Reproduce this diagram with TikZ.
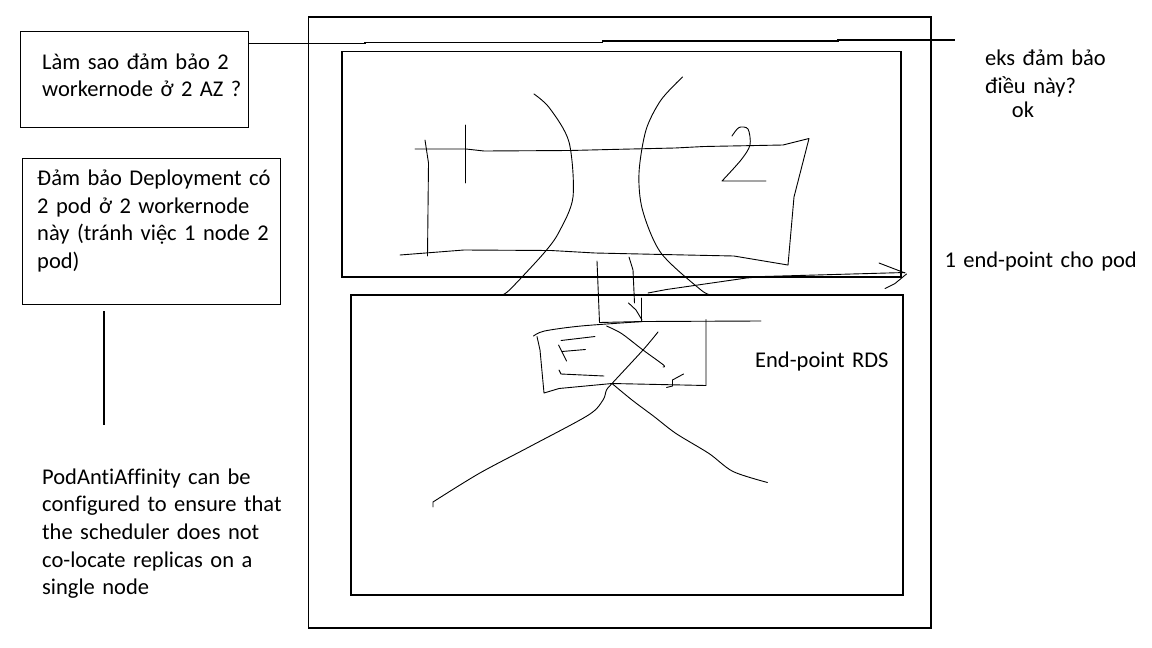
\documentclass[tikz,border=0pt]{standalone}
\usepackage{fontspec}
\setmainfont{Carlito}[Ligatures=NoCommon]
\usetikzlibrary{positioning,calc}
\tikzset{
  frame/.style={draw, line width=1.1pt},
  pen/.style={line width=0.9pt, line join=round, line cap=round},
  notebox/.style={draw, line width=1.1pt, inner sep=0pt, anchor=north west},
  note/.style={inner sep=0pt, align=left, anchor=base west, text width=260pt,
               font=\fontsize{22.5}{27.6}\selectfont},
}

\begin{document}
\begin{tikzpicture}[x=1pt,y=-1pt]
  \useasboundingbox (0,0) rectangle (1152,648);

  % notes on the left
  \node[notebox, minimum width=228pt, minimum height=96pt] (q1) at (20,31) {};
  \node[note] (q1txt) at (42,69.3) {Làm sao đảm bảo 2\\workernode ở 2 AZ ?};
  \node[notebox, minimum width=258pt, minimum height=146pt] (q2) at (22,158) {};
  \node[note] (q2txt) at (37,185.7) {Đảm bảo Deployment có\\2 pod ở 2 workernode\\này (tránh việc 1 node 2\\pod)};
  \node[note] (anti) at (42,484.3) {PodAntiAffinity can be\\configured to ensure that\\the scheduler does not\\co-locate replicas on a\\single node};
  \draw[frame] (q2.south west) ++(82,6) -- ++(0,114);

  % notes on the right
  \node[note] (eks) at (985,65.7) {eks đảm bảo\\điều này?};
  \node[note] (ok) at (1011.7,117.3) {ok};
  \node[note] (ep) at (944.3,267.3) {1 end-point cho pod};
  \node[note] (rds) at (755,367.3) {End-point RDS};

  % frames
  \draw[frame] (308.5,17) rectangle (931,628);
  \draw[frame] (342,51.5) rectangle (901,277);
  \draw[frame] (351,295) rectangle (903,595);
  \draw[frame] (q1.north east) ++(0,12.3) -- (365,43.3) -- (365,42.3) -- (602.5,42.3)
    -- (602.5,41) -- (838,41) -- (838,40) -- (955,40);

  % sketch: two worker nodes
  \draw[pen] (415,149) -- (466,149) -- (484,151) -- (570,150.5) -- (610,149.5)
    -- (675,148) -- (704,146.5) -- (783,145) -- (809,138.5) -- (794,197) -- (788,265);
  \draw[pen] (400,255) -- (464,250) -- (551,250.5) -- (595,253) -- (686,255)
    -- (734,256) -- (788,265);
  \draw[pen] (425,140) -- (428.5,163) -- (427.5,256);
  \draw[pen] (465,125) -- (465,183);
  \draw[pen] plot[smooth] coordinates {(732,136) (739,127.5) (748,129) (750,145) (741,160) (722,181)}
    -- (766,181);
  \draw[pen] plot[smooth] coordinates {(534,94) (549.5,108) (569,142) (573,197)
    (559,232) (544,253) (510.5,289) (502,295)};
  \draw[pen] plot[smooth] coordinates {(682.5,77) (661,100) (646,130) (639,173)
    (642.5,210) (661,253) (701,290) (712,295)};

  % sketch: links down to RDS
  \draw[pen] (597,261) -- (599.5,322.5);
  \draw[pen] (629,257) -- (633,270) -- (634.5,303);
  \draw[pen] (628.5,303) -- (636,310) -- (642,320);
  \draw[pen] (641.5,298) -- (641.5,321);
  \draw[pen] (599.5,322.5) -- (643,321.5) -- (761,321);
  \draw[pen] (706,319.5) -- (706,385.5) -- (612,383.5);

  % sketch: RDS
  \draw[pen] plot[smooth] coordinates {(533.5,336) (544.5,331) (581,326) (643,321.5)};
  \draw[pen] (537,336.5) -- (540,350) -- (544,393) -- (559,388.5) -- (612,383.5);
  \draw[pen] (561,340.5) -- (595,336.5);
  \draw[pen] (562,351.5) -- (585.5,349.5);
  \draw[pen] (558.5,345) -- (566.5,361);
  \draw[pen] (559,370) -- (561,374) -- (604,376);
  \draw[pen] plot[smooth] coordinates {(606.5,326) (621.5,333.5) (643,350) (663.5,365) (663,367)};
  \draw[pen] plot[smooth] coordinates {(658,332) (643,350) (612,383.5) (606.5,390)
    (603,400) (588.5,415) (530,446.5) (479,473.5) (433,502)} -- (433,507);
  \draw[pen] plot[smooth] coordinates {(612,383.5) (632,400) (654,416.5) (676,433.5)
    (709,453.5) (733,471.5) (767.5,482.5)};
  \draw[pen] (666.5,387.5) -- (672.5,386) -- (672.5,380) -- (683.5,374);

  % sketch: arrow to the end-point
  \draw[pen] (648,293) -- (666.5,289.5) -- (746.5,278) -- (763,276.5) -- (905,272.5);
  \draw[pen] (879,263) -- (905,273);
  \draw[pen] (885,288.5) -- (895,283.5) -- (906.5,274);
\end{tikzpicture}
\end{document}
